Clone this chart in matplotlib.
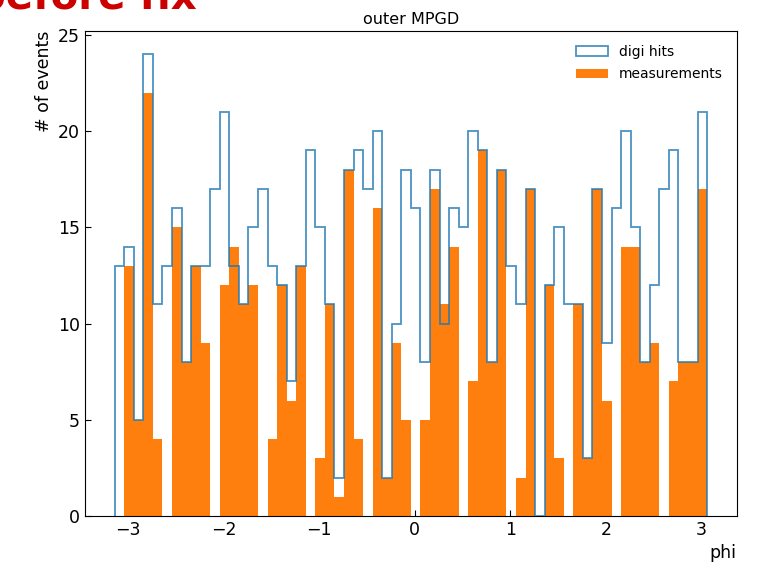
import numpy as np
import matplotlib
matplotlib.use("Agg")
import matplotlib.pyplot as plt

# bin edges: step of 0.1 starting at -pi
bin_start = -np.pi
bin_step = 0.1
n_bins = 62

digi_hits = [13, 14, 5, 24, 11, 13, 16, 8, 13, 13, 17, 21, 13, 11, 15, 17,
             13, 12, 7, 13, 19, 15, 11, 2, 18, 19, 17, 20, 2, 10, 18, 16,
             8, 18, 10, 16, 15, 20, 19, 8, 18, 13, 11, 17, 0, 12, 15, 11,
             11, 3, 17, 9, 16, 20, 15, 8, 12, 17, 19, 8, 8, 21]
measurements = [0, 13, 5, 22, 4, 0, 15, 8, 13, 9, 0, 12, 14, 11, 12, 0,
                4, 12, 6, 13, 0, 3, 11, 1, 18, 4, 0, 16, 2, 9, 5, 0,
                5, 17, 11, 14, 0, 7, 19, 8, 18, 0, 2, 17, 0, 12, 3, 0,
                11, 3, 17, 6, 0, 14, 14, 8, 9, 0, 7, 8, 8, 17]

edges = bin_start + bin_step * np.arange(n_bins + 1)
centers = 0.5 * (edges[:-1] + edges[1:])

fig = plt.figure(figsize=(7.57, 5.69), dpi=100)
ax = fig.add_axes([0.1123, 0.0931, 0.8609, 0.8524])

ax.hist(centers, bins=edges, weights=digi_hits, histtype='step',
        color='#1f77b4', alpha=0.8, linewidth=1.3, label='digi hits', zorder=3)
ax.hist(centers, bins=edges, weights=measurements, histtype='stepfilled',
        color='#ff7f0e', label='measurements', zorder=2)

ax.set_xticks([-3, -2, -1, 0, 1, 2, 3])
ax.set_yticks([0, 5, 10, 15, 20, 25])
ax.tick_params(direction='in', labelsize=12.5, length=4)
ax.set_title('outer MPGD', fontsize=11.5, pad=5)
ax.set_xlabel('phi', fontsize=12.5, loc='right')
ax.set_ylabel('# of events', fontsize=12.5, loc='top')
ax.legend(loc='upper right', fontsize=10, frameon=False,
          handlelength=2.3, labelspacing=0.6, borderaxespad=0.6)

fig.text(-0.03, 0.985, 'before fix', color='#cc0000', fontsize=29,
         fontweight='bold', va='baseline', ha='left')

fig.savefig('out.png', dpi=100)
